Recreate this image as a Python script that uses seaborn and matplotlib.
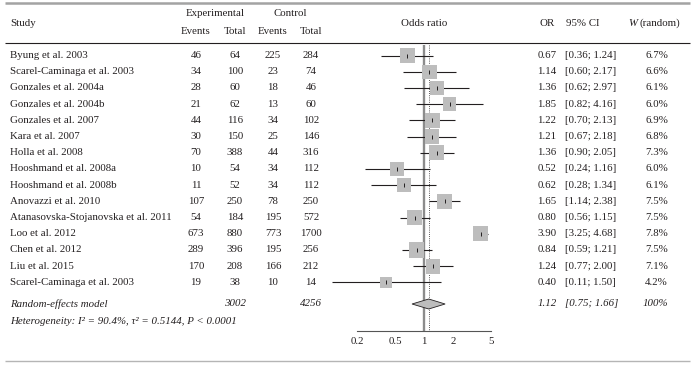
import numpy as np
import pandas as pd
import matplotlib
matplotlib.use("Agg")
import matplotlib.pyplot as plt
from matplotlib.patches import Polygon
from matplotlib.ticker import NullLocator
import seaborn as sns

# ---- data ----
studies = ["Byung et al. 2003", "Scarel-Caminaga et al. 2003", "Gonzales et al. 2004a",
           "Gonzales et al. 2004b", "Gonzales et al. 2007", "Kara et al. 2007",
           "Holla et al. 2008", "Hooshmand et al. 2008a", "Hooshmand et al. 2008b",
           "Anovazzi et al. 2010", "Atanasovska-Stojanovska et al. 2011", "Loo et al. 2012",
           "Chen et al. 2012", "Liu et al. 2015", "Scarel-Caminaga et al. 2003"]
exp_events = [46, 34, 28, 21, 44, 30, 70, 10, 11, 107, 54, 673, 289, 170, 19]
exp_total = [64, 100, 60, 62, 116, 150, 388, 54, 52, 250, 184, 880, 396, 208, 38]
ctrl_events = [225, 23, 18, 13, 34, 25, 44, 34, 34, 78, 195, 773, 195, 166, 10]
ctrl_total = [284, 74, 46, 60, 102, 146, 316, 112, 112, 250, 572, 1700, 256, 212, 14]
odds = [0.67, 1.14, 1.36, 1.85, 1.22, 1.21, 1.36, 0.52, 0.62, 1.65, 0.80, 3.90, 0.84, 1.24, 0.40]
ci_low = [0.36, 0.60, 0.62, 0.82, 0.70, 0.67, 0.90, 0.24, 0.28, 1.14, 0.56, 3.25, 0.59, 0.77, 0.11]
ci_high = [1.24, 2.17, 2.97, 4.16, 2.13, 2.18, 2.05, 1.16, 1.34, 2.38, 1.15, 4.68, 1.21, 2.00, 1.50]
weights = [6.7, 6.6, 6.1, 6.0, 6.9, 6.8, 7.3, 6.0, 6.1, 7.5, 7.5, 7.8, 7.5, 7.1, 4.2]
pooled_or = 1.12
pooled_low = 0.75
pooled_high = 1.66
pooled_weight = "100%"
total_exp = 3002
total_ctrl = 4256
het_label = "Heterogeneity: I² = 90.4%, τ² = 0.5144, P < 0.0001"
xticks = [0.2, 0.5, 1, 2, 5]
xtick_labels = ["0.2", "0.5", "1", "2", "5"]

sns.set_style("white")
plt.rcParams["font.family"] = ["Liberation Serif", "DejaVu Serif"]

W, H = 697, 368
ink = "#231f20"
fs = 7.8

fig = plt.figure(figsize=(W / 100, H / 100), dpi=100)
fig.patch.set_facecolor("white")

# text layer in pixel coordinates
tax = fig.add_axes([0, 0, 1, 1])
tax.set_xlim(0, W)
tax.set_ylim(H, 0)
tax.axis("off")

# forest layer (log scale), bottom spine is the OR axis
ax_top, ax_bot = 45, 331
ax_left, ax_right = 325, 500
fax = fig.add_axes([ax_left / W, (H - ax_bot) / H, (ax_right - ax_left) / W, (ax_bot - ax_top) / H])
fax.patch.set_alpha(0)
px_per_dec, one_px = 95.9, 424
fax.set_xscale("log")

rows = 55.5 + 16.2 * np.arange(len(studies))
y_pool = 304
y_het = 322

df = pd.DataFrame({"study": studies, "odds": odds, "lo": ci_low, "hi": ci_high,
                   "weight": weights, "row": rows})

fax.vlines(1, ax_top, ax_bot, color="#8c8c8c", lw=1.7, zorder=0.5)
fax.vlines(pooled_or, ax_top, ax_bot, color=ink, lw=0.6, linestyles=(0, (1, 1.6)), zorder=0.6)
fax.hlines(df["row"], df["lo"], df["hi"], color=ink, lw=0.8, zorder=1)
sns.scatterplot(data=df, x="odds", y="row", size="weight", sizes=(4.2 * 16, 7.8 * 16),
                size_norm=(4.2, 7.8), marker="s", color="#bdbdbd", linewidth=0,
                legend=False, ax=fax, zorder=2)
fax.scatter(df["odds"], df["row"], marker="|", s=12, color=ink, linewidths=0.7, zorder=3)

diamond = Polygon([(pooled_low, y_pool), (pooled_or, y_pool - 5),
                   (pooled_high, y_pool), (pooled_or, y_pool + 5)],
                  closed=True, facecolor="#bdbdbd", edgecolor=ink, lw=0.6, zorder=3)
fax.add_patch(diamond)

fax.set_xlim(10 ** ((ax_left - one_px) / px_per_dec), 10 ** ((ax_right - one_px) / px_per_dec))
fax.set_ylim(ax_bot, ax_top)
fax.set_xlabel("")
fax.set_ylabel("")
fax.set_yticks([])
fax.set_xticks(xticks, labels=xtick_labels)
fax.xaxis.set_minor_locator(NullLocator())
fax.tick_params(axis="x", direction="in", length=5, width=0.8, color="#555555",
                labelsize=fs, labelcolor=ink, pad=4)
for side in ["left", "right", "top"]:
    fax.spines[side].set_visible(False)
fax.spines["bottom"].set_bounds(xticks[0], xticks[-1])
fax.spines["bottom"].set_color("#555555")
fax.spines["bottom"].set_linewidth(0.8)

# rules
tax.hlines(3, 5, 690, color="#a3a3a3", lw=1.8)
tax.hlines(43, 5, 690, color=ink, lw=0.8)
tax.hlines(361, 5, 690, color="#b5b5b5", lw=1.0)

# header
hkw = dict(fontsize=fs, color=ink, va="center")
tax.text(10, 23, "Study", ha="left", **hkw)
tax.text(215, 13, "Experimental", ha="center", **hkw)
tax.text(290, 13, "Control", ha="center", **hkw)
for xc, lab in zip([196, 235, 273, 311], ["Events", "Total", "Events", "Total"]):
    tax.text(xc, 32, lab, ha="center", **hkw)
tax.text(424, 23, "Odds ratio", ha="center", **hkw)
tax.text(547, 23, "OR", ha="center", **hkw)
tax.text(583, 23, "95% CI", ha="center", **hkw)
tax.text(637, 23, "W", ha="right", style="italic", **hkw)
tax.text(639, 23, "(random)", ha="left", **hkw)

# study rows
for i, r in enumerate(rows):
    tax.text(10, r, studies[i], ha="left", **hkw)
    tax.text(196, r, str(exp_events[i]), ha="center", **hkw)
    tax.text(235, r, str(exp_total[i]), ha="center", **hkw)
    tax.text(273, r, str(ctrl_events[i]), ha="center", **hkw)
    tax.text(311, r, str(ctrl_total[i]), ha="center", **hkw)
    tax.text(547, r, f"{odds[i]:.2f}", ha="center", **hkw)
    tax.text(565, r, f"[{ci_low[i]:.2f}; {ci_high[i]:.2f}]", ha="left", **hkw)
    tax.text(668, r, f"{weights[i]:.1f}%", ha="right", **hkw)

# pooled row
ikw = dict(hkw, style="italic")
tax.text(10, y_pool, "Random-effects model", ha="left", **ikw)
tax.text(235, y_pool, str(total_exp), ha="center", **ikw)
tax.text(311, y_pool, str(total_ctrl), ha="center", **ikw)
tax.text(547, y_pool, f"{pooled_or:.2f}", ha="center", **ikw)
tax.text(565, y_pool, f"[{pooled_low:.2f}; {pooled_high:.2f}]", ha="left", **ikw)
tax.text(668, y_pool, pooled_weight, ha="right", **ikw)
tax.text(10, y_het, het_label, ha="left", **ikw)

fig.savefig("out.png", dpi=100, facecolor="white")
